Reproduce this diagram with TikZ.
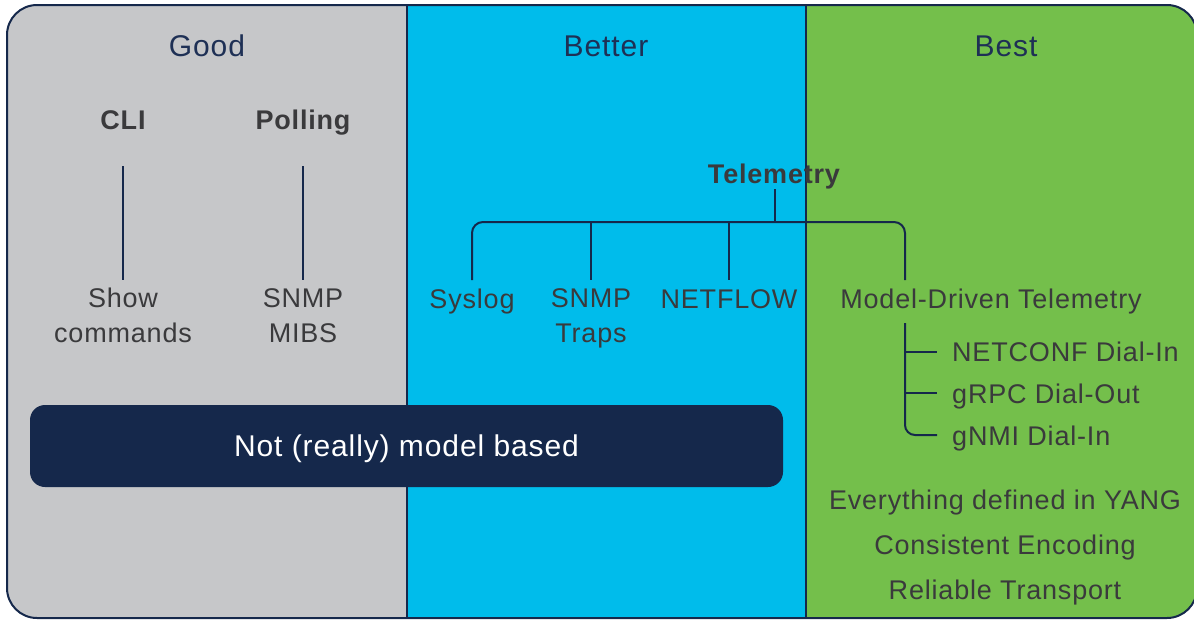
\documentclass[tikz,border=0pt]{standalone}
\usepackage{fontspec}
\setmainfont[LetterSpace=3]{Liberation Sans}
\definecolor{cgray}{RGB}{198,199,201}
\definecolor{cblue}{RGB}{0,188,235}
\definecolor{cgreen}{RGB}{116,191,75}
\definecolor{navy}{RGB}{21,40,75}
\definecolor{titlec}{RGB}{30,48,85}
\definecolor{txt}{RGB}{58,58,60}
\tikzset{
  title/.style={font=\fontsize{30}{36}\selectfont, text=titlec, anchor=base, inner sep=0pt},
  body/.style={font=\fontsize{27}{35}\selectfont, text=txt, anchor=base, inner sep=0pt, align=center},
  boldtxt/.style={font=\fontsize{27}{35}\selectfont\bfseries, text=txt, anchor=base, inner sep=0pt},
  leftxt/.style={font=\fontsize{27}{35}\selectfont, text=txt, anchor=base west, inner sep=0pt},
  conn/.style={draw=navy, line width=2pt},
  border/.style={draw=navy, line width=2pt},
}
\begin{document}
\begin{tikzpicture}[x=1pt,y=-1pt]
\useasboundingbox (0,0) rectangle (1194,619);
\begin{scope}
  \clip[rounded corners=30] (7,5) rectangle (1197,618);
  \fill[cgray] (0,0) rectangle (407,625);
  \fill[cblue] (407,0) rectangle (806,625);
  \fill[cgreen] (806,0) rectangle (1200,625);
\end{scope}
\draw[border] (407,5) -- (407,618);
\draw[border] (806,5) -- (806,618);
\draw[border, rounded corners=30] (7,5) rectangle (1197,618);

% titles
\node[title] (good) at (207,56) {Good};
\node[title] (better) at (606,56) {Better};
\node[title] (best) at (1006,56) {Best};

% Good column
\node[boldtxt] (cli) at (123,129) {CLI};
\node[boldtxt] (poll) at (303,129) {Polling};
\node[body] (show) at (123,342) {Show\\commands};
\node[body] (mibs) at (303,342) {SNMP\\MIBS};
\coordinate (cliA) at (123,166);
\coordinate (cliB) at (123,280);
\coordinate (pollA) at (303,166);
\coordinate (pollB) at (303,280);
\draw[conn] (cliA) -- (cliB);
\draw[conn] (pollA) -- (pollB);

% Telemetry tree
\node[boldtxt] (tel) at (774,183) {Telemetry};
\node[body] (sys) at (472,308) {Syslog};
\node[body] (traps) at (591,342) {SNMP\\Traps};
\node[body] (nf) at (729,308) {NETFLOW};
\node[body] (mdt) at (991,308) {Model-Driven Telemetry};
\coordinate (telA) at (775,189);
\coordinate (telB) at (775,222);
\coordinate (sysT) at (472,280);
\coordinate (busR) at (905,222);
\coordinate (mdtT) at (905,280);
\coordinate (trA) at (591,222);
\coordinate (trB) at (591,280);
\coordinate (nfA) at (729,222);
\coordinate (nfB) at (729,280);
\draw[conn] (telA) -- (telB);
\draw[conn, rounded corners=11] (sysT) |- (busR) -- (mdtT);
\draw[conn] (trA) -- (trB);
\draw[conn] (nfA) -- (nfB);

% MDT subtree
\node[leftxt] (netconf) at (952,361) {NETCONF Dial-In};
\node[leftxt] (grpc) at (952,403) {gRPC Dial-Out};
\node[leftxt] (gnmi) at (952,445) {gNMI Dial-In};
\coordinate (subA) at (905,323);
\coordinate (subB) at (937,435);
\coordinate (b1a) at (905,352);
\coordinate (b1b) at (937,352);
\coordinate (b2a) at (905,393);
\coordinate (b2b) at (937,393);
\draw[conn, rounded corners=10] (subA) |- (subB);
\draw[conn] (b1a) -- (b1b);
\draw[conn] (b2a) -- (b2b);

% bottom texts
\node[body] (yang) at (1005,509) {Everything defined in YANG};
\node[body] (enc) at (1005,554) {Consistent Encoding};
\node[body] (rel) at (1005,599) {Reliable Transport};

% model based bar
\node[fill=navy, rounded corners=15, minimum width=753pt, minimum height=82pt, inner sep=0pt,
      text height=21pt, text depth=0pt,
      text=white, font=\fontsize{30}{36}\selectfont] (bar) at (406.5,446) {Not (really) model based};
\end{tikzpicture}
\end{document}
